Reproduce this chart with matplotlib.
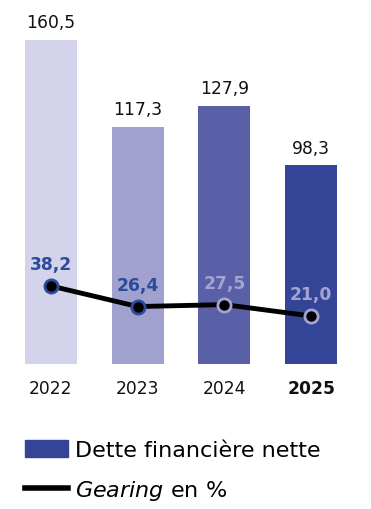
import matplotlib.pyplot as plt
from matplotlib.patches import Patch
from matplotlib.lines import Line2D

plt.rcParams['font.family'] = ['DejaVu Sans']
plt.rcParams['mathtext.fontset'] = 'dejavusans'

# data
years = ["2022", "2023", "2024", "2025"]
dette = [160.5, 117.3, 127.9, 98.3]
gearing = [38.2, 26.4, 27.5, 21.0]
dette_labels = ["160,5", "117,3", "127,9", "98,3"]
gearing_labels = ["38,2", "26,4", "27,5", "21,0"]

bar_colors = ["#D3D3EB", "#A0A1CF", "#5A60A8", "#344496"]
dark_blue = "#2D4B9B"
light_blue = "#A4A4D2"
gear_colors = [dark_blue, dark_blue, light_blue, light_blue]

fig = plt.figure(figsize=(3.71, 5.10), dpi=100)
ax = fig.add_axes([0, 0.2843, 1, 0.7157])
x = range(len(years))
ax.bar(x, dette, width=0.6, color=bar_colors)
for i, v in enumerate(dette):
    ax.text(i, v + 6.3, dette_labels[i], ha='center', va='baseline', fontsize=12.3, color='#111111')
ax.set_xlim(-0.588, 3.69)
ax.set_ylim(0, 180.7)
ax.set_xticks(list(x))
ax.set_xticklabels(years, fontsize=12.3, color='#111111')
ax.get_xticklabels()[-1].set_fontweight('bold')
ax.tick_params(axis='x', length=0, pad=11)
ax.set_yticks([])
for s in ax.spines.values():
    s.set_visible(False)

# gearing on twin axis
ax2 = ax.twinx()
ax2.plot(x, gearing, color='black', lw=3.5, zorder=2)
for i, v in enumerate(gearing):
    ax2.plot(i, v, 'o', ms=9.5, mfc='black', mec=gear_colors[i], mew=2, zorder=3)
    ax2.text(i, v + 9.5, gearing_labels[i], ha='center', va='baseline', fontsize=12.3,
             fontweight='bold', color=gear_colors[i])
ax2.set_ylim(-6.6, 203)
ax2.set_yticks([])
for s in ax2.spines.values():
    s.set_visible(False)

handles = [Patch(color="#344496"), Line2D([0], [0], color='black', lw=4)]
labels = ["Dette financière nette", "$\\it{Gearing}$ en %"]
fig.legend(handles, labels, loc='upper left', bbox_to_anchor=(0.067, 0.136),
           frameon=False, fontsize=16, handlelength=1.95, handleheight=0.8,
           handletextpad=0.3, labelspacing=0.8, borderpad=0, borderaxespad=0)

fig.savefig("out.png", dpi=100)
